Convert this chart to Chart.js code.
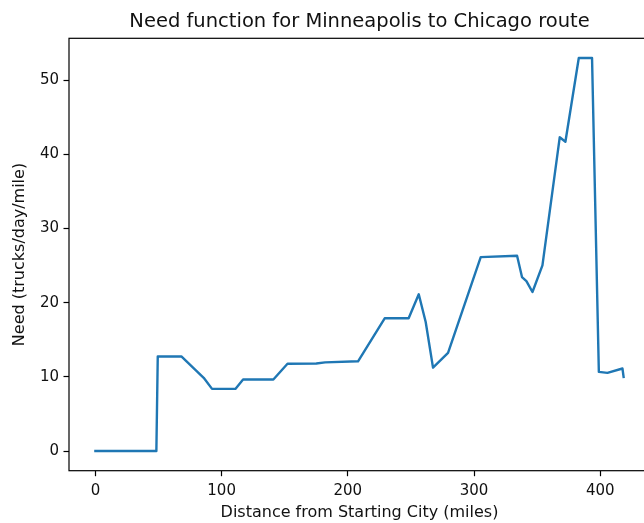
<!DOCTYPE html>
<html>
<head>
<meta charset="utf-8">
<script src="https://cdn.jsdelivr.net/npm/chart.js@4"></script>
<style>
  html, body { margin: 0; padding: 0; background: #fff; overflow: hidden; }
  #wrap { width: 644px; height: 523px; overflow: hidden; }
  canvas { display: block; }
</style>
</head>
<body>
<div id="wrap"><canvas id="need" width="660" height="523"></canvas></div>
<script>
// Route profile: distance along the route (miles) and truck need at that point
const distanceMiles = [0, 48.3, 49.4, 68.1, 85.8, 92.4, 110.9, 117.0, 141.0, 152.2, 175.0, 182.0,
  208.1, 229.2, 248.2, 256.2, 261.7, 267.5, 279.4, 305.3, 334.1, 338.0, 341.5, 346.3, 354.2,
  367.9, 372.4, 383.0, 393.5, 398.9, 405.7, 417.6, 418.5];
const needPerMile = [0, 0, 12.75, 12.75, 9.87, 8.38, 8.38, 9.65, 9.65, 11.78, 11.8, 11.95,
  12.1, 17.9, 17.9, 21.13, 17.4, 11.24, 13.23, 26.15, 26.34, 23.46, 22.92, 21.44, 25.03,
  42.3, 41.7, 53.0, 53.0, 10.67, 10.54, 11.13, 10.0];

const xTickValues = [0, 100, 200, 300, 400];
const yTickValues = [0, 10, 20, 30, 40, 50];

const titleText = 'Need function for Minneapolis to Chicago route';
const xLabel = 'Distance from Starting City (miles)';
const yLabel = 'Need (trucks/day/mile)';

// 5% margins around the data range on both axes
function paddedRange(values) {
  const lo = Math.min(...values), hi = Math.max(...values);
  const m = (hi - lo) * 0.05;
  return [lo - m, hi + m];
}
const [xMin, xMax] = paddedRange(distanceMiles);
const [yMin, yMax] = paddedRange(needPerMile);

const points = distanceMiles.map((d, i) => ({ x: d, y: needPerMile[i] }));

const FONT = 'DejaVu Sans';
const INK = '#111';

// Box around the plotting area, and the title centred over the plot rather than the canvas
const frame = {
  id: 'frame',
  afterLayout(chart) {
    const t = chart.titleBlock, a = chart.chartArea;
    if (t) {
      t.left = a.left;
      t.right = a.right;
      t.width = a.right - a.left;
    }
  },
  afterDraw(chart) {
    const { ctx, chartArea: a } = chart;
    ctx.save();
    ctx.strokeStyle = '#000';
    ctx.lineWidth = 1.2;
    ctx.strokeRect(a.left, a.top, a.right - a.left, a.bottom - a.top);
    ctx.restore();
  }
};

new Chart(document.getElementById('need'), {
  type: 'line',
  data: {
    datasets: [{
      data: points,
      borderColor: '#1f77b4',
      borderWidth: 2.4,
      borderJoinStyle: 'round',
      borderCapStyle: 'square',
      pointRadius: 0,
      fill: false,
      tension: 0
    }]
  },
  options: {
    responsive: false,
    animation: false,
    layout: { padding: { left: 0, right: 10, top: 0, bottom: 0 } },
    plugins: {
      legend: { display: false },
      tooltip: { enabled: false },
      title: {
        display: true,
        text: titleText,
        color: INK,
        font: { family: FONT, size: 19.5, weight: 'normal', lineHeight: 1.2 },
        padding: { top: 10, bottom: 4.9 }
      }
    },
    scales: {
      x: {
        type: 'linear',
        min: xMin,
        max: xMax,
        afterBuildTicks(s) { s.ticks = xTickValues.map(v => ({ value: v })); },
        afterFit(s) { s.height = 52.3; },
        border: { display: false },
        grid: { display: true, drawOnChartArea: false, drawTicks: true, tickLength: 5.5, tickWidth: 1.2, tickColor: '#000' },
        ticks: { color: INK, font: { family: FONT, size: 15 }, padding: 6, maxRotation: 0, autoSkip: false },
        title: { display: true, text: xLabel, color: INK, font: { family: FONT, size: 16, lineHeight: 1.2 }, padding: { top: 0, bottom: 1 } }
      },
      y: {
        type: 'linear',
        min: yMin,
        max: yMax,
        afterBuildTicks(s) { s.ticks = yTickValues.map(v => ({ value: v })); },
        afterFit(s) { s.width = 69; },
        border: { display: false },
        grid: { display: true, drawOnChartArea: false, drawTicks: true, tickLength: 5.5, tickWidth: 1.2, tickColor: '#000' },
        ticks: { color: INK, font: { family: FONT, size: 15 }, padding: 4.5, autoSkip: false },
        title: { display: true, text: yLabel, color: INK, font: { family: FONT, size: 16, lineHeight: 1.2 }, padding: { top: 10, bottom: 0 } }
      }
    }
  },
  plugins: [frame]
});
</script>
</body>
</html>
